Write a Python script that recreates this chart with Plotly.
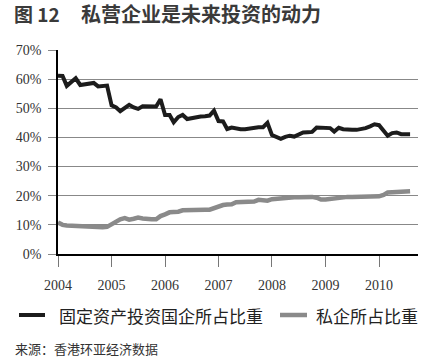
import plotly.graph_objects as go
import pandas as pd

# ---- data (monthly, Jan 2004 - Aug 2010), percent ----
months = pd.date_range("2004-01-01", periods=80, freq="MS")

soe_share = [
    61.2, 61.1, 57.7, 59.0, 60.3, 58.0, 58.3, 58.3, 58.7, 57.5,
    57.5, 57.8, 51.0, 50.3, 49.0, 50.0, 51.2, 50.3, 49.8, 50.7,
    50.6, 50.6, 50.6, 53.1, 47.7, 47.7, 45.2, 47.0, 47.7, 46.3,
    46.7, 47.0, 47.2, 47.3, 47.5, 49.2, 45.6, 45.5, 42.9, 43.4,
    43.0, 42.8, 42.8, 43.1, 43.5, 43.5, 43.5, 45.0, 40.8, 40.3,
    39.5, 40.2, 40.6, 40.3, 41.1, 41.7, 41.8, 41.9, 43.4, 43.4,
    43.4, 43.2, 42.0, 43.3, 42.8, 42.6, 42.6, 42.6, 42.8, 43.2,
    43.8, 44.5, 44.2, 42.0, 40.6, 41.5, 41.7, 41.1, 41.1, 41.1,
]

private_share = [
    10.8, 10.0, 9.8, 9.7, 9.6, 9.5, 9.4, 9.3, 9.1, 9.1,
    9.2, 9.3, 10.3, 11.2, 11.9, 12.3, 11.8, 12.1, 12.5, 12.2,
    11.9, 11.9, 11.9, 13.0, 13.6, 14.3, 14.4, 14.5, 15.0, 15.1,
    15.1, 15.1, 15.1, 15.2, 15.2, 15.8, 16.5, 16.8, 17.0, 17.1,
    17.8, 17.9, 17.9, 18.2, 18.0, 18.6, 18.6, 18.3, 18.8, 19.0,
    19.1, 19.2, 19.4, 19.5, 19.5, 19.6, 19.6, 19.6, 19.3, 18.7,
    18.7, 18.9, 19.2, 19.5, 19.7, 19.6, 19.6, 19.6, 19.6, 19.6,
    19.6, 19.7, 19.8, 20.3, 21.1, 21.2, 21.3, 21.4, 21.4, 21.5,
]

series_names = ["固定资产投资国企所占比重", "私企所占比重"]
series_colors = ["#1c1c1c", "#8a8a8a"]
y_tickvals = [0, 10, 20, 30, 40, 50, 60, 70]
y_ticktext = ["0%", "10%", "20%", "30%", "40%", "50%", "60%", "70%"]
x_years = ["2004", "2005", "2006", "2007", "2008", "2009", "2010"]

title_num = "图 12"
title_text = "私营企业是未来投资的动力"
source_text = "来源：香港环亚经济数据"

CJK = "Noto Sans CJK SC"
SERIF = "Liberation Serif"

W, H = 423, 360
L, R, T = 58, 5, 50
B = H - 254
pw, ph = W - L - R, H - T - B

def px_x(x):  # page pixel -> paper coordinate
    return (x - L) / pw

def px_y(y):
    return (H - B - y) / ph

fig = go.Figure()
fig.add_trace(go.Scatter(x=months, y=soe_share, mode="lines", name=series_names[0],
                         line=dict(color=series_colors[0], width=4), showlegend=False))
fig.add_trace(go.Scatter(x=months, y=private_share, mode="lines", name=series_names[1],
                         line=dict(color=series_colors[1], width=4.5), showlegend=False))

fig.update_layout(
    width=W, height=H,
    margin=dict(l=L, r=R, t=T, b=B),
    paper_bgcolor="white", plot_bgcolor="white",
    xaxis=dict(
        range=["2004-01-01", "2010-09-24"],
        tickvals=[y + "-01-01" for y in x_years],
        ticktext=x_years,
        ticks="outside", ticklen=11, tickcolor="#777", tickwidth=1,
        showgrid=False, showline=True, linecolor="black", linewidth=1.5,
        tickfont=dict(family=SERIF, size=14, color="#333"),
        ticklabelstandoff=6,
        zeroline=False,
    ),
    yaxis=dict(
        range=[0, 70],
        tickvals=y_tickvals, ticktext=y_ticktext,
        ticks="outside", ticklen=8, tickcolor="#888", tickwidth=1,
        showgrid=True, gridcolor="#888", gridwidth=1,
        showline=True, linecolor="black", linewidth=1.5,
        tickfont=dict(family=SERIF, size=14, color="#333"),
        ticklabelstandoff=4,
        zeroline=False,
    ),
)

annotations = [
    dict(text="<b>" + title_num + "</b>", x=px_x(12), y=px_y(14), xanchor="left", yanchor="middle",
         font=dict(family=CJK, size=19, color="#3a3a3a")),
    dict(text="<b>" + title_text + "</b>", x=px_x(79), y=px_y(14), xanchor="left", yanchor="middle",
         font=dict(family=CJK, size=20, color="#3a3a3a")),
    dict(text=series_names[0], x=px_x(57), y=px_y(315), xanchor="left", yanchor="middle",
         font=dict(family=CJK, size=17, color="#222")),
    dict(text=series_names[1], x=px_x(314), y=px_y(315), xanchor="left", yanchor="middle",
         font=dict(family=CJK, size=17, color="#222")),
    dict(text=source_text, x=px_x(13), y=px_y(348), xanchor="left", yanchor="middle",
         font=dict(family=CJK, size=13, color="#333")),
]
for a in annotations:
    a.update(xref="paper", yref="paper", showarrow=False)
fig.update_layout(annotations=annotations)

shapes = [
    dict(type="line", x0=px_x(19), x1=px_x(45), y0=px_y(315), y1=px_y(315),
         line=dict(color=series_colors[0], width=4)),
    dict(type="line", x0=px_x(280), x1=px_x(307), y0=px_y(315), y1=px_y(315),
         line=dict(color=series_colors[1], width=4.5)),
]
for s in shapes:
    s.update(xref="paper", yref="paper")
fig.update_layout(shapes=shapes)

fig.write_html("out.html", config={"displayModeBar": False},
               post_script="document.body.style.margin='0px';")
